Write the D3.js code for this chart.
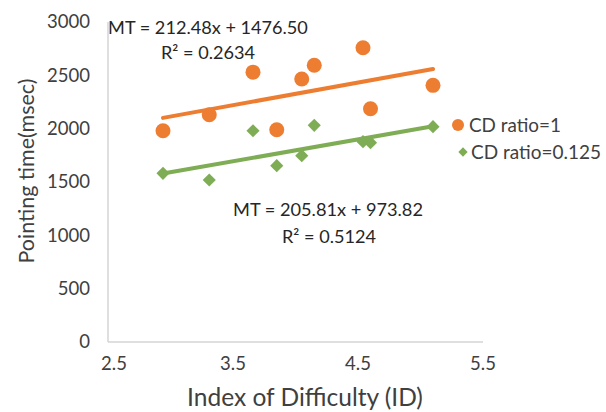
<!DOCTYPE html>
<html>
<head>
<meta charset="utf-8">
<script src="https://cdn.jsdelivr.net/npm/d3@7/dist/d3.min.js"></script>
<style>
  html, body { margin: 0; padding: 0; background: #ffffff; }
  svg { display: block; font-family: Lato, "Open Sans", sans-serif; }
</style>
</head>
<body>
<svg id="chart" width="606" height="412"></svg>
<script>
// Index of difficulty for each target condition
const idValues = [2.94, 3.31, 3.66, 3.85, 4.05, 4.15, 4.54, 4.60, 5.10];
// Mean pointing time (ms) per condition
const mtRatio1 = [1980, 2130, 2530, 1990, 2466, 2594, 2759, 2187, 2406];
const mtRatio0125 = [1581, 1519, 1981, 1653, 1747, 2031, 1878, 1869, 2019];
// Linear fits: MT = slope * ID + intercept
const fitRatio1 = { slope: 212.48, intercept: 1476.50, r2: 0.2634 };
const fitRatio0125 = { slope: 205.81, intercept: 973.82, r2: 0.5124 };
const seriesNames = ["CD ratio=1", "CD ratio=0.125"];
const xTicks = [2.5, 3.5, 4.5, 5.5];
const yTicks = [0, 500, 1000, 1500, 2000, 2500, 3000];

const orange = "#ED7D31";
const green = "#7FAD55";

const svg = d3.select("#chart");
const x = d3.scaleLinear().domain([2.5, 5.5]).range([108, 483]);
const y = d3.scaleLinear().domain([0, 3000]).range([342, 22]);

// Scale a text's font so that it spans the given width
function fitWidth(sel, width) {
  const base = +sel.attr("font-size");
  const w = sel.node().getComputedTextLength();
  if (w > 0) sel.attr("font-size", base * width / w);
  return sel;
}

// Axis lines
svg.append("line").attr("x1", x(2.5)).attr("x2", x(2.5)).attr("y1", y(3000)).attr("y2", y(0))
  .attr("stroke", "#d4d4d4").attr("stroke-width", 1.5);
svg.append("line").attr("x1", x(2.5)).attr("x2", x(5.5)).attr("y1", y(0)).attr("y2", y(0))
  .attr("stroke", "#d4d4d4").attr("stroke-width", 1.5);

// Tick labels
const tickSize = (() => {
  const t = svg.append("text").attr("font-size", 16).text("3000");
  const s = 16 * 43 / t.node().getComputedTextLength();
  t.remove();
  return s;
})();
svg.append("g").selectAll("text").data(yTicks).join("text")
  .attr("x", 90).attr("y", d => y(d)).attr("dy", "0.35em")
  .attr("text-anchor", "end").attr("font-size", tickSize).attr("fill", "#404040")
  .text(d => d);
svg.append("g").selectAll("text").data(xTicks).join("text")
  .attr("x", d => x(d) + (d === 2.5 ? 6 : 0)).attr("y", 364).attr("dy", "0.35em")
  .attr("text-anchor", "middle").attr("font-size", tickSize).attr("fill", "#404040")
  .text(d => d.toFixed(1));

// Axis titles
fitWidth(svg.append("text").attr("x", 305).attr("y", 397).attr("dy", "0.35em")
  .attr("text-anchor", "middle").attr("font-size", 20).attr("fill", "#404040")
  .text("Index of Difficulty (ID)"), 236);
fitWidth(svg.append("text").attr("transform", "translate(26,171) rotate(-90)").attr("dy", "0.35em")
  .attr("text-anchor", "middle").attr("font-size", 20).attr("fill", "#404040")
  .text("Pointing time(msec)"), 185);

// Trend lines across the observed ID range
const xMin = d3.min(idValues), xMax = d3.max(idValues);
[[fitRatio1, orange], [fitRatio0125, green]].forEach(([f, c]) => {
  svg.append("line")
    .attr("x1", x(xMin)).attr("y1", y(f.slope * xMin + f.intercept))
    .attr("x2", x(xMax)).attr("y2", y(f.slope * xMax + f.intercept))
    .attr("stroke", c).attr("stroke-width", 4).attr("stroke-linecap", "round");
});

// Markers
const diamond = d3.symbol().type(d3.symbolDiamond2).size(110);
svg.append("g").selectAll("path").data(idValues.map((v, i) => [v, mtRatio0125[i]])).join("path")
  .attr("d", diamond).attr("transform", d => `translate(${x(d[0])},${y(d[1])})`)
  .attr("fill", green);
svg.append("g").selectAll("circle").data(idValues.map((v, i) => [v, mtRatio1[i]])).join("circle")
  .attr("cx", d => x(d[0])).attr("cy", d => y(d[1])).attr("r", 7.5)
  .attr("fill", orange);

// Regression equations
const eq = (f) => `MT = ${f.slope.toFixed(2)}x + ${f.intercept.toFixed(2)}`;
const eqText = (cx, cy, txt, w) => fitWidth(svg.append("text").attr("x", cx).attr("y", cy).attr("dy", "0.35em")
  .attr("text-anchor", "middle").attr("font-size", 18).attr("fill", "#262626").text(txt), w);
eqText(208, 28, eq(fitRatio1), 200);
eqText(208, 53, `R² = ${fitRatio1.r2.toFixed(4)}`, 94);
eqText(328, 210, eq(fitRatio0125), 190);
eqText(329, 237, `R² = ${fitRatio0125.r2.toFixed(4)}`, 94);

// Legend
const legend = svg.append("g");
legend.append("circle").attr("cx", 458).attr("cy", 125).attr("r", 6).attr("fill", orange);
legend.append("path").attr("d", d3.symbol().type(d3.symbolDiamond2).size(55))
  .attr("transform", "translate(463,152)").attr("fill", green);
legend.selectAll("text").data(seriesNames).join("text")
  .attr("x", (d, i) => i === 0 ? 469 : 471).attr("y", (d, i) => i === 0 ? 125 : 152).attr("dy", "0.35em")
  .attr("font-size", 18).attr("fill", "#404040").text(d => d)
  .each(function (d, i) { fitWidth(d3.select(this), i === 0 ? 92 : 130); });
</script>
</body>
</html>
